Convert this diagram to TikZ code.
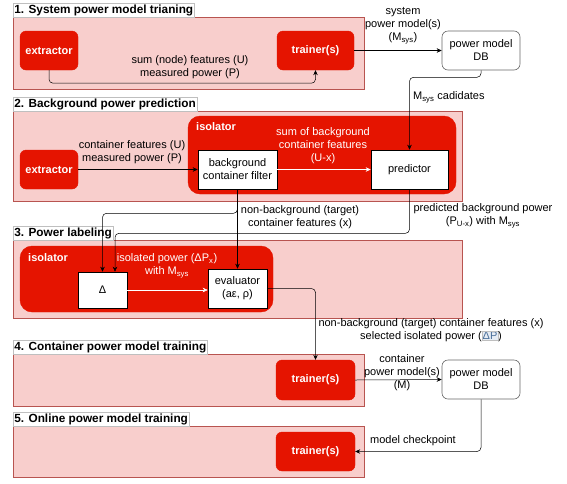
\documentclass[tikz,border=0pt]{standalone}
\usepackage{fontspec}
\setmainfont{Liberation Sans}
\usetikzlibrary{arrows.meta}

\definecolor{panelfill}{HTML}{F8CECC}
\definecolor{panelline}{HTML}{B85450}
\definecolor{isored}{HTML}{E51400}
\definecolor{hlfill}{HTML}{E6ECF4}
\definecolor{hltext}{HTML}{4A6F9A}

\newcommand{\hlbox}[1]{{\setlength{\fboxsep}{0.5pt}\setlength{\fboxrule}{0.3pt}\fcolorbox{black!25}{hlfill}{\textcolor{hltext}{#1}}}}

\tikzset{
  panel/.style={fill=panelfill, draw=panelline, line width=.6pt},
  isobox/.style={fill=isored, draw=isored, rounded corners=12pt},
  redbox/.style={fill=isored, draw=isored, rounded corners=6pt, text=white, font=\bfseries, align=center},
  whitebox/.style={fill=white, draw=black, line width=.6pt, align=center},
  dbbox/.style={fill=white, draw=black!60, line width=.6pt, rounded corners=6pt, align=center},
  steptitle/.style={fill=white, draw=black!25, font=\fontsize{11.8}{14}\selectfont\bfseries, inner sep=1.2pt, anchor=south west},
  isotitle/.style={text=white, font=\bfseries, anchor=west, inner sep=0pt},
  lbl/.style={align=center, inner sep=0pt},
  arr/.style={-{Stealth[length=5pt,width=4.5pt]}, rounded corners=4pt, line width=.5pt},
  warr/.style={arr, draw=white},
}

\begin{document}
\fontsize{11}{13}\selectfont
\begin{tikzpicture}[x=1pt,y=-1pt]
\useasboundingbox (0,0) rectangle (567,483);

%%%%%% 1. system power model training

%panel
\draw [panel] (13,17) rectangle (364,89);
\node [steptitle] (title1) at (13,17) {1. System power model trianing};

%boxes
\node [redbox, minimum width=58pt, minimum height=39pt] (ext1) at (49,50.5) {extractor};
\node [redbox, minimum width=77pt, minimum height=39pt] (trn1) at (315.5,50.5) {trainer(s)};
\node [dbbox, minimum width=78pt, minimum height=39pt] (db1) at (481,50.5) {power model\\DB};

%arrows
\draw [arr] (ext1.south) -- ++(0,13) -| (trn1.south);
\node [lbl] (lbl1) at (190,67.5) {sum (node) features (U)\\measured power (P)};
\draw [arr] (trn1.east) -- (db1.west);
\node [lbl] (lbl2) at (403,26) {system\\power model(s)\\(M\textsubscript{sys})};

%%%%%% 2. background power prediction

%panel
\draw [panel] (13,111) rectangle (462,201);
\node [steptitle] (title2) at (13,111) {2. Background power prediction};

%isolator
\draw [isobox] (188,116) rectangle (456,194);
\node [isotitle] (iso2) at (196,127) {isolator};

%boxes
\node [redbox, minimum width=58pt, minimum height=39pt] (ext2) at (49,169.5) {extractor};
\node [whitebox, minimum width=79pt, minimum height=39pt] (filt) at (237.5,169.5) {background\\container filter};
\node [whitebox, minimum width=77pt, minimum height=39pt] (pred) at (409.5,169.5) {predictor};

%arrows
\draw [arr] (db1.south) -- ++(0,7) -| (pred.north);
\node [lbl, anchor=west] (lbl3) at (413,97) {M\textsubscript{sys} cadidates};
\draw [arr] (ext2.east) -- (filt.west);
\node [lbl] (lbl4) at (132,152) {container features (U)\\measured power (P)};
\draw [warr] (filt.east) -- (pred.west);
\node [lbl, text=white] (lbl5) at (323,146) {sum of background\\container features\\(U-x)};

%%%%%% 3. power labeling

%panel
\draw [panel] (13,240) rectangle (462,318);
\node [steptitle] (title3) at (13,240) {3. Power labeling};

%isolator
\draw [isobox] (20,246) rectangle (273,312);
\node [isotitle] (iso3) at (28,258) {isolator};

%boxes
\node [whitebox, minimum width=49pt, minimum height=36pt] (delta) at (102.5,290) {Δ};
\node [whitebox, minimum width=59pt, minimum height=39pt] (eval) at (237.5,288.5) {evaluator\\(aε, ρ)};

%arrows
\draw [warr] (delta.east) -- (delta.east -| eval.west);
\node [lbl, text=white] (lbl6) at (167,266) {isolated power (ΔP\textsubscript{x})\\with M\textsubscript{sys}};
\draw [arr] (filt.south) -- (eval.north);
\draw [arr] (filt.south) -- ++(0,24) -| (delta.north);
\node [lbl] (lbl7) at (300,217.5) {non-background (target)\\container features (x)};
\draw [arr] (pred.south) -- ++(0,44) -| ([xshift=12.5pt]delta.north);
\node [lbl] (lbl8) at (483,216) {predicted background power\\(P\textsubscript{U-x}) with M\textsubscript{sys}};

%%%%%% 4. container power model training

%panel
\draw [panel] (13,354) rectangle (364,406);
\node [steptitle] (title4) at (13,354) {4. Container power model training};

%boxes
\node [redbox, minimum width=79pt, minimum height=40pt] (trn4) at (315.5,380) {trainer(s)};
\node [dbbox, minimum width=78pt, minimum height=39pt] (db4) at (481,379.5) {power model\\DB};

%arrows
\draw [arr] (eval.east) -| (trn4.north);
\node [lbl] (lbl9) at (431,330) {non-background (target) container features (x)\\selected isolated power (\hlbox{ΔP})};
\draw [arr] (trn4.east) -- (db4.west);
\node [lbl] (lbl10) at (402,372.5) {container\\power model(s)\\(M)};

%%%%%% 5. online power model training

%panel
\draw [panel] (13,426) rectangle (364,477);
\node [steptitle] (title5) at (13,426) {5. Online power model training};

%boxes
\node [redbox, minimum width=79pt, minimum height=39pt] (trn5) at (315.5,451.5) {trainer(s)};

%arrows
\draw [arr] (db4.south) |- (trn5.east);
\node [lbl] (lbl11) at (413,441) {model checkpoint};

\end{tikzpicture}
\end{document}
